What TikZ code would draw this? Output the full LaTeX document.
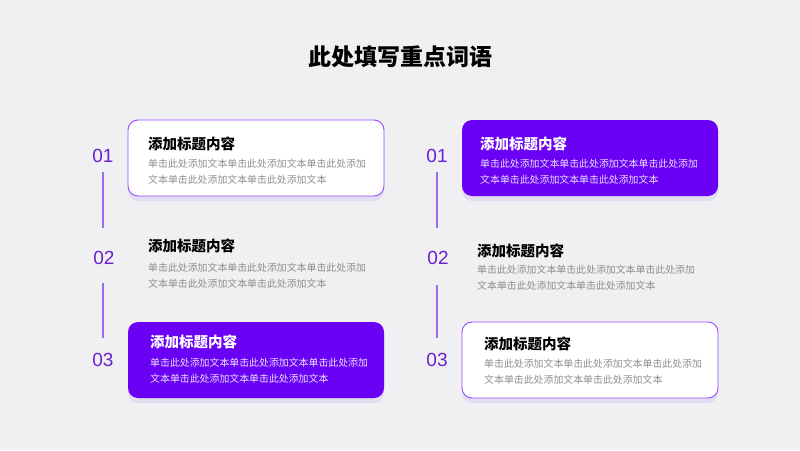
\documentclass[tikz,border=0pt]{standalone}
\usepackage{fontspec}
\setmainfont{Noto Sans CJK SC}
\newfontfamily\numfont{Liberation Sans}
\usetikzlibrary{positioning, shadows}
\definecolor{bgray}{HTML}{F0F0F2}
\definecolor{vio}{HTML}{6A00F4}
\definecolor{vionum}{HTML}{6A1FD0}
\definecolor{stemc}{HTML}{9D6CF2}
\definecolor{bodyg}{HTML}{8E8E8E}
\definecolor{shade}{HTML}{DDD3F3}
\definecolor{palebody}{HTML}{E9E1FF}

\tikzset{
  card/.style={rounded corners=10pt, minimum width=256pt, minimum height=76pt,
    drop shadow={shadow xshift=0pt, shadow yshift=-5pt, fill=shade, opacity=0.7}},
  whitecard/.style={card, fill=white, draw=vio!70, line width=0.9pt},
  violetcard/.style={card, fill=vio},
  num/.style={font=\numfont\fontsize{19}{19}\selectfont, text=vionum, inner sep=0pt},
  head/.style={anchor=base west, font=\bfseries\fontsize{14.5}{16}\selectfont, inner sep=0pt},
  body/.style={anchor=north west, align=left, font=\fontsize{9.9}{16}\selectfont, text=bodyg, inner sep=0pt},
  stem/.style={draw=stemc, line width=1.2pt}
}

\begin{document}
\begin{tikzpicture}[x=1pt, y=-1pt]
  \fill[bgray] (0,0) rectangle (800,450);
  \node[font=\bfseries\fontsize{23}{26}\selectfont] (title) at (400,57) {此处填写重点词语};

  % left column
  \node[whitecard] (lc1) at (256,158) {};
  \node[violetcard] (lc3) at (256,360) {};
  \node[num] (ln1) at (103,156) {01};
  \node[num] (ln2) at (104,258) {02};
  \node[num] (ln3) at (103,360) {03};
  \node[head] (lh1) at (148,149) {添加标题内容};
  \node[body] (lb1) at (148,159) {单击此处添加文本单击此处添加文本单击此处添加\\文本单击此处添加文本单击此处添加文本};
  \node[head] (lh2) at (148,251) {添加标题内容};
  \node[body] (lb2) at (148,263) {单击此处添加文本单击此处添加文本单击此处添加\\文本单击此处添加文本单击此处添加文本};
  \node[head, text=white] (lh3) at (150,347) {添加标题内容};
  \node[body, text=palebody] (lb3) at (150,358) {单击此处添加文本单击此处添加文本单击此处添加\\文本单击此处添加文本单击此处添加文本};
  \draw[stem] ([yshift=-9pt]ln1.south) -- ([yshift=23pt]ln2.north -| ln1.south);
  \draw[stem] ([yshift=-18pt]ln2.south -| ln3.north) -- ([yshift=15pt]ln3.north);

  % right column
  \node[violetcard] (rc1) at (590,158) {};
  \node[whitecard] (rc3) at (590,360) {};
  \node[num] (rn1) at (437,156) {01};
  \node[num] (rn2) at (438,258) {02};
  \node[num] (rn3) at (437,360) {03};
  \node[head, text=white] (rh1) at (480,149) {添加标题内容};
  \node[body, text=palebody] (rb1) at (480,159) {单击此处添加文本单击此处添加文本单击此处添加\\文本单击此处添加文本单击此处添加文本};
  \node[head] (rh2) at (477,256) {添加标题内容};
  \node[body] (rb2) at (477,265) {单击此处添加文本单击此处添加文本单击此处添加\\文本单击此处添加文本单击此处添加文本};
  \node[head] (rh3) at (484,349) {添加标题内容};
  \node[body] (rb3) at (484,359) {单击此处添加文本单击此处添加文本单击此处添加\\文本单击此处添加文本单击此处添加文本};
  \draw[stem] ([yshift=-9pt]rn1.south) -- ([yshift=23pt]rn2.north -| rn1.south);
  \draw[stem] ([yshift=-20pt]rn2.south -| rn3.north) -- ([yshift=15pt]rn3.north);
\end{tikzpicture}
\end{document}
